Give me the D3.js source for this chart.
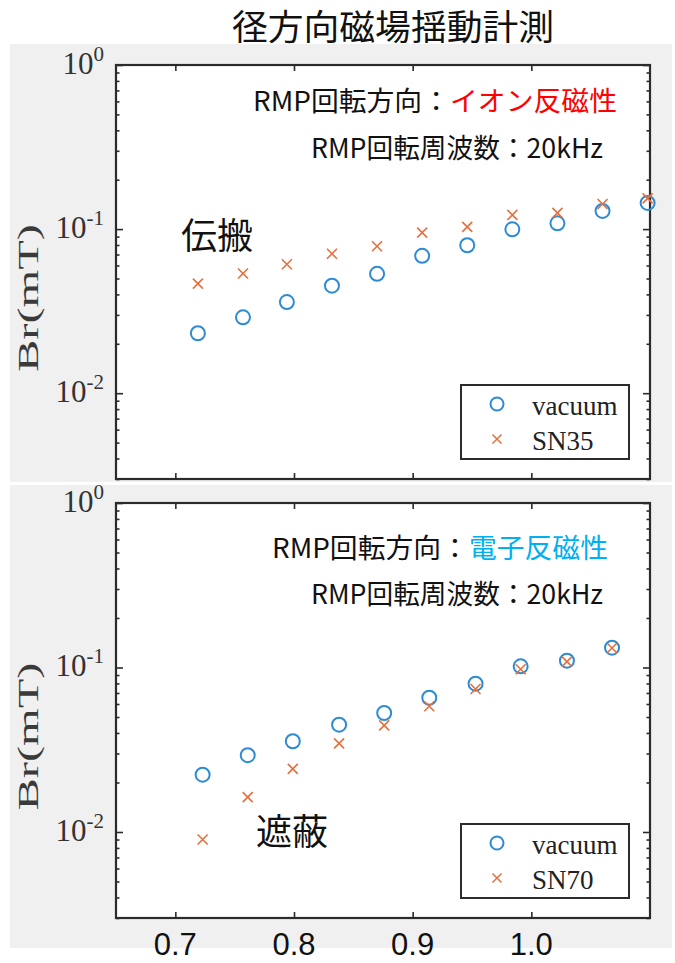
<!DOCTYPE html>
<html>
<head>
<meta charset="utf-8">
<script src="https://cdn.jsdelivr.net/npm/d3@7/dist/d3.min.js"></script>
<style>
  body { margin: 0; background: #ffffff; }
  svg { display: block; }
</style>
</head>
<body>
<svg id="chart" width="675" height="963"></svg>
<script>
// ---- data ----
const xTicks = [0.7, 0.8, 0.9, 1.0];
const xTickLabels = ["0.7", "0.8", "0.9", "1.0"];
const yMajorTicks = [1, 0.1, 0.01];
const yTickExponents = ["0", "-1", "-2"];

// upper panel: RMP rotating in ion diamagnetic direction
const topX = [0.719, 0.757, 0.794, 0.832, 0.870, 0.908, 0.946, 0.984, 1.022, 1.060, 1.098];
const topVacuum = [0.0232, 0.0290, 0.0359, 0.0452, 0.0534, 0.0687, 0.0797, 0.0997, 0.1085, 0.1290, 0.1443];
const topSN35 = [0.0465, 0.0536, 0.0611, 0.0707, 0.0786, 0.0952, 0.1031, 0.1220, 0.1255, 0.1422, 0.1539];

// lower panel: RMP rotating in electron diamagnetic direction
const bottomX = [0.723, 0.761, 0.799, 0.838, 0.876, 0.914, 0.953, 0.991, 1.030, 1.068];
const bottomVacuum = [0.0223, 0.0293, 0.0356, 0.0449, 0.0529, 0.0655, 0.0797, 0.1017, 0.1100, 0.1319];
const bottomSN70 = [0.0090, 0.0163, 0.0242, 0.0346, 0.0445, 0.0581, 0.0740, 0.0975, 0.1085, 0.1313];

// ---- layout ----
const plotLeft = 116, plotRight = 650;
const yDomain = [0.003, 1];
const xDomain = [0.65, 1.1];

const BLUE = "#2d8bd3";
const ORANGE = "#e5703f";
const AXIS = "#2b2b2b";
const SERIF = "'Liberation Serif', 'Times New Roman', serif";
const CJK = "'Noto Sans CJK JP', 'Noto Sans', sans-serif";

const svg = d3.select("#chart");

// title
svg.append("text")
  .attr("x", 393).attr("y", 40)
  .attr("text-anchor", "middle")
  .attr("font-family", CJK)
  .attr("font-size", 35)
  .attr("textLength", 322)
  .attr("lengthAdjust", "spacingAndGlyphs")
  .attr("fill", "#111")
  .text("径方向磁場揺動計測");

const panels = [
  {
    bg: [10, 44, 662, 438],
    top: 65, bottom: 479,
    xs: topX, vacuum: topVacuum, plasma: topSN35, plasmaName: "SN35",
    line1: ["RMP回転方向：", "イオン反磁性"], line1Color: "#ff0000",
    line1Pos: [253, 111], line1Len: 364, line2Pos: [311, 158],
    tag: "伝搬", tagPos: [181, 249]
  },
  {
    bg: [10, 485, 662, 463],
    top: 503, bottom: 918,
    xs: bottomX, vacuum: bottomVacuum, plasma: bottomSN70, plasmaName: "SN70",
    line1: ["RMP回転方向：", "電子反磁性"], line1Color: "#00b0f0",
    line1Pos: [272, 558], line1Len: 336, line2Pos: [311, 604],
    tag: "遮蔽", tagPos: [256, 845]
  }
];

const x = d3.scaleLinear().domain(xDomain).range([plotLeft, plotRight]);

function crossPath(cx, cy, s) {
  return `M${cx - s},${cy - s}L${cx + s},${cy + s}M${cx - s},${cy + s}L${cx + s},${cy - s}`;
}

// minor tick values for the log axis
const minorTicks = [];
for (let e = -3; e <= -1; e++) {
  for (let m = 2; m <= 9; m++) {
    const v = m * Math.pow(10, e);
    if (v >= yDomain[0] && v <= yDomain[1]) minorTicks.push(v);
  }
}

panels.forEach(p => {
  const g = svg.append("g");
  const y = d3.scaleLog().domain(yDomain).range([p.bottom, p.top]);

  // figure background
  g.append("rect")
    .attr("x", p.bg[0]).attr("y", p.bg[1])
    .attr("width", p.bg[2]).attr("height", p.bg[3])
    .attr("fill", "#f0f0f0");

  // axes area
  g.append("rect")
    .attr("x", plotLeft).attr("y", p.top)
    .attr("width", plotRight - plotLeft).attr("height", p.bottom - p.top)
    .attr("fill", "#ffffff");

  // inward ticks on all four sides
  const addAxis = (axis, tx, ty) => {
    const a = g.append("g")
      .attr("transform", `translate(${tx},${ty})`)
      .call(axis);
    a.select(".domain").remove();
    a.selectAll("text").remove();
    a.selectAll("line").attr("stroke", AXIS).attr("stroke-width", 1.6);
  };
  addAxis(d3.axisLeft(y).tickValues(yMajorTicks).tickSize(-7), plotLeft, 0);
  addAxis(d3.axisRight(y).tickValues(yMajorTicks).tickSize(-7), plotRight, 0);
  addAxis(d3.axisLeft(y).tickValues(minorTicks).tickSize(-3.5), plotLeft, 0);
  addAxis(d3.axisRight(y).tickValues(minorTicks).tickSize(-3.5), plotRight, 0);
  addAxis(d3.axisTop(x).tickValues(xTicks).tickSize(-6), 0, p.top);
  addAxis(d3.axisBottom(x).tickValues(xTicks).tickSize(-6), 0, p.bottom);

  // axes box
  g.append("rect")
    .attr("x", plotLeft).attr("y", p.top)
    .attr("width", plotRight - plotLeft).attr("height", p.bottom - p.top)
    .attr("fill", "none")
    .attr("stroke", AXIS).attr("stroke-width", 2.2);

  // y tick labels 10^n
  yMajorTicks.forEach((v, i) => {
    const t = g.append("text")
      .attr("x", 104).attr("y", y(v) + 9)
      .attr("text-anchor", "end")
      .attr("font-family", SERIF)
      .attr("fill", "#333");
    t.append("tspan").attr("font-size", 31).text("10");
    t.append("tspan").attr("font-size", 21).attr("dy", -13).text(yTickExponents[i]);
  });

  // y axis label
  const cy = (p.top + p.bottom) / 2 + 26;
  g.append("text")
    .attr("transform", `translate(38,${cy}) rotate(-90)`)
    .attr("text-anchor", "middle")
    .attr("font-family", SERIF)
    .attr("font-size", 29)
    .attr("textLength", 148)
    .attr("lengthAdjust", "spacingAndGlyphs")
    .attr("fill", "#3a3a3a")
    .text("Br(mT)");

  // markers: vacuum field (circles), plasma (crosses)
  g.append("g").selectAll("circle")
    .data(p.xs.map((xv, i) => [xv, p.vacuum[i]]))
    .join("circle")
    .attr("cx", d => x(d[0])).attr("cy", d => y(d[1]))
    .attr("r", 7)
    .attr("fill", "none")
    .attr("stroke", BLUE).attr("stroke-width", 2);

  g.append("g").selectAll("path")
    .data(p.xs.map((xv, i) => [xv, p.plasma[i]]))
    .join("path")
    .attr("d", d => crossPath(x(d[0]), y(d[1]), 5))
    .attr("fill", "none")
    .attr("stroke", ORANGE).attr("stroke-width", 1.6);

  // legend
  const lx = 461, ly = p.bottom - 94;
  const lg = g.append("g");
  lg.append("rect")
    .attr("x", lx).attr("y", ly).attr("width", 168).attr("height", 74)
    .attr("fill", "#ffffff").attr("stroke", AXIS).attr("stroke-width", 2);
  lg.append("circle")
    .attr("cx", lx + 36).attr("cy", ly + 19).attr("r", 6.5)
    .attr("fill", "none").attr("stroke", BLUE).attr("stroke-width", 2);
  lg.append("path")
    .attr("d", crossPath(lx + 36, ly + 54, 4.5))
    .attr("fill", "none").attr("stroke", ORANGE).attr("stroke-width", 1.5);
  lg.append("text")
    .attr("x", lx + 71).attr("y", ly + 30)
    .attr("font-family", SERIF).attr("font-size", 27).attr("fill", "#222")
    .text("vacuum");
  lg.append("text")
    .attr("x", lx + 71).attr("y", ly + 65)
    .attr("font-family", SERIF).attr("font-size", 27).attr("fill", "#222")
    .text(p.plasmaName);

  // annotations
  const t1 = g.append("text")
    .attr("x", p.line1Pos[0]).attr("y", p.line1Pos[1])
    .attr("font-family", CJK).attr("font-size", 27).attr("fill", "#111")
    .attr("textLength", p.line1Len)
    .attr("lengthAdjust", "spacingAndGlyphs");
  t1.append("tspan").text(p.line1[0]);
  t1.append("tspan").attr("fill", p.line1Color).text(p.line1[1]);

  g.append("text")
    .attr("x", p.line2Pos[0]).attr("y", p.line2Pos[1])
    .attr("font-family", CJK).attr("font-size", 27).attr("fill", "#111")
    .attr("textLength", 292)
    .attr("lengthAdjust", "spacingAndGlyphs")
    .text("RMP回転周波数：20kHz");

  g.append("text")
    .attr("x", p.tagPos[0]).attr("y", p.tagPos[1])
    .attr("font-family", CJK).attr("font-size", 36).attr("fill", "#111")
    .text(p.tag);
});

// x tick labels under the lower panel
svg.append("g").selectAll("text")
  .data(xTicks)
  .join("text")
  .attr("x", d => x(d))
  .attr("y", 955)
  .attr("text-anchor", "middle")
  .attr("font-family", "'Liberation Sans', Arial, sans-serif")
  .attr("font-size", 31)
  .attr("fill", "#111")
  .text((d, i) => xTickLabels[i]);
</script>
</body>
</html>
